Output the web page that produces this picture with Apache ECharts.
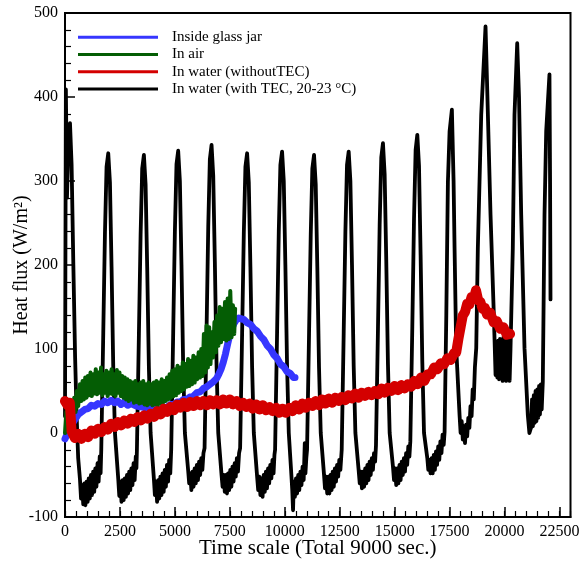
<!DOCTYPE html>
<html>
<head>
<meta charset="utf-8">
<script src="https://cdn.jsdelivr.net/npm/echarts@6/dist/echarts.min.js"></script>
<style>
  html, body { margin: 0; padding: 0; background: #fff; }
  #chart { width: 584px; height: 562px; }
</style>
</head>
<body>
<div id="chart"></div>
<script>
// Heat flux records, [time, W/m^2]
var seriesNames = [
  'Inside glass jar',
  'In air',
  'In water (withoutTEC)',
  'In water (with TEC, 20-23 \u00B0C)'
];

var jarFlux = [
  [0,-7],[150,2],[300,10],[450,16],[600,22],[750,25],[900,28],[1050,29],[1200,33],[1350,32],
  [1500,35],[1650,34],[1800,38],[1950,36],[2100,39],[2250,36],[2400,38],[2550,34],[2700,37],[2850,33],
  [3000,35],[3250,32],[3500,31],[3750,29],[4000,29],[4250,27],[4500,30],[4650,31],[4800,34],[4950,34],
  [5100,37],[5250,37],[5400,40],[5550,40],[5700,43],[5850,44],[6000,48],[6150,49],[6300,53],[6450,55],
  [6600,58],[6750,61],[6900,65],[7000,70],[7100,76],[7200,84],[7300,94],[7400,106],[7500,117],[7600,125],
  [7700,131],[7800,135],[7900,137],[8000,136],[8150,135],[8300,131],[8450,129],[8600,124],[8750,121],[8900,115],
  [9050,111],[9200,104],[9350,100],[9500,93],[9650,89],[9800,82],[9950,79],[10100,73],[10250,71],[10400,66],[10465,66]
];

var airFlux = [
  [0,0],[60,25],[120,5],[180,30],[240,12],[300,35],[360,18],[420,42],[480,25],[540,50],[600,32],[680,58],
  [740,38],[800,62],[860,40],[920,66],[980,42],[1040,68],[1100,45],[1160,72],[1220,44],[1280,70],[1340,47],
  [1400,76],[1460,46],[1520,72],[1580,48],[1640,78],[1700,45],[1760,70],[1820,48],[1880,74],[1940,44],
  [2000,72],[2060,47],[2120,76],[2180,46],[2240,70],[2300,44],[2360,75],[2420,48],[2480,72],[2540,44],
  [2600,68],[2660,42],[2720,66],[2780,40],[2840,64],[2900,38],[2960,62],[3020,40],[3080,60],[3140,36],
  [3200,62],[3260,37],[3320,58],[3380,35],[3440,60],[3500,36],[3560,62],[3620,34],[3680,58],[3740,33],
  [3800,60],[3860,35],[3920,58],[3980,33],[4040,60],[4100,34],[4160,62],[4220,33],[4280,60],[4340,35],
  [4400,64],[4460,36],[4520,62],[4580,38],[4640,66],[4700,40],[4760,70],[4820,42],[4880,74],[4940,44],
  [5000,76],[5060,45],[5120,80],[5180,48],[5240,78],[5300,50],[5360,84],[5420,52],[5480,82],[5540,55],
  [5600,88],[5660,56],[5720,86],[5780,58],[5840,92],[5900,60],[5960,90],[6020,64],[6080,96],[6140,66],
  [6200,100],[6260,68],[6320,118],[6380,72],[6440,128],[6500,78],[6560,126],[6620,82],[6680,120],[6740,90],
  [6800,132],[6860,96],[6920,140],[6980,104],[7040,150],[7100,108],[7160,148],[7220,112],[7280,156],[7340,110],
  [7400,160],[7460,112],[7520,169],[7580,114],[7640,152],[7700,118],[7740,148]
];

var waterFlux = [
  [0,38],[120,33],[220,36],[300,2],[450,-6],[600,-1],[750,-7],[900,-1],[1050,-5],[1200,3],[1350,-1],
  [1500,5],[1650,1],[1800,7],[1950,4],[2100,11],[2250,7],[2400,13],[2550,9],[2700,15],[2850,11],[3000,17],
  [3150,13],[3300,19],[3450,15],[3600,21],[3750,17],[3900,23],[4050,19],[4200,26],[4350,22],[4500,29],
  [4650,25],[4800,31],[4950,27],[5100,34],[5250,30],[5400,36],[5550,31],[5700,37],[5850,32],[6000,38],
  [6150,33],[6300,38],[6450,33],[6600,39],[6750,34],[6900,39],[7050,34],[7200,40],[7350,35],[7500,40],
  [7650,34],[7800,38],[7950,32],[8100,36],[8250,31],[8400,35],[8550,29],[8700,34],[8850,28],[9000,33],
  [9150,27],[9300,31],[9450,26],[9600,30],[9750,24],[9900,29],[10050,24],[10200,30],[10350,26],[10500,33],
  [10650,28],[10800,35],[10950,30],[11100,36],[11250,32],[11400,38],[11550,33],[11700,40],[11850,35],[12000,41],
  [12150,36],[12300,42],[12450,38],[12600,43],[12750,39],[12900,45],[13050,41],[13200,47],[13350,42],[13500,48],
  [13650,44],[13800,49],[13950,45],[14100,50],[14250,46],[14400,53],[14550,48],[14700,54],[14850,50],[15000,56],
  [15150,51],[15300,57],[15450,53],[15600,58],[15750,55],[15900,62],[16050,58],[16200,66],[16350,62],[16500,70],
  [16650,70],[16800,78],[16950,76],[17100,83],[17250,82],[17400,89],[17550,87],[17700,95],[17800,96],[17900,112],
  [18000,126],[18100,140],[18200,144],[18300,154],[18400,153],[18500,162],[18600,160],[18700,170],[18800,158],
  [18900,156],[19000,148],[19100,149],[19200,141],[19350,143],[19500,132],[19650,133],[19800,124],[19950,126],
  [20100,117],[20250,118]
];

var tecFlux = [
  [0,20],[40,409],[90,280],[150,340],[227,369],[300,320],[380,200],[460,90],[530,20],[600,-30],
  [680,-55],[730,-78],[780,-62],[830,-85],[880,-60],[930,-86],[980,-58],[1030,-82],[1080,-54],[1130,-78],
  [1180,-50],[1230,-74],[1280,-46],[1330,-70],[1380,-42],[1430,-64],[1480,-36],[1530,-58],[1580,-28],[1620,-48],[1650,-20],
  [1741,119],[1818,238],[1891,317],[1968,333],[2045,298],[2118,198],[2195,79],[2273,0],
  [2423,-55],[2470,-75],[2520,-58],[2570,-82],[2620,-56],[2670,-80],[2720,-54],[2770,-76],[2820,-50],[2870,-72],
  [2920,-46],[2970,-68],[3020,-42],[3070,-62],[3120,-36],[3170,-56],[3220,-28],[3250,-42],[3272,-20],
  [3363,118],[3440,236],[3513,315],[3590,331],[3667,296],[3740,197],[3817,78],[3895,0],
  [4045,-55],[4090,-74],[4140,-58],[4190,-82],[4240,-56],[4290,-78],[4340,-52],[4390,-74],[4440,-48],[4490,-70],
  [4540,-44],[4590,-64],[4640,-38],[4690,-58],[4740,-32],[4790,-48],[4832,-20],
  [4923,120],[5000,240],[5073,320],[5150,336],[5227,300],[5300,200],[5377,80],[5455,0],
  [5605,-45],[5650,-60],[5700,-48],[5750,-68],[5800,-46],[5850,-64],[5900,-42],[5950,-60],[6000,-38],[6050,-56],
  [6100,-34],[6150,-50],[6200,-30],[6250,-44],[6300,-24],[6350,-18],
  [6441,122],[6518,246],[6591,326],[6668,343],[6745,306],[6818,204],[6895,82],[6973,0],
  [7123,-50],[7170,-64],[7220,-50],[7270,-70],[7320,-50],[7370,-72],[7420,-48],[7470,-68],[7520,-44],[7570,-64],
  [7620,-40],[7670,-58],[7720,-36],[7770,-52],[7820,-30],[7870,-46],[7920,-24],[7968,-18],
  [8059,119],[8136,238],[8209,317],[8286,333],[8363,298],[8436,198],[8513,79],[8591,0],
  [8741,-52],[8790,-68],[8840,-52],[8890,-74],[8940,-54],[8990,-76],[9040,-50],[9090,-70],[9140,-46],[9190,-66],
  [9240,-42],[9290,-60],[9340,-38],[9390,-54],[9440,-32],[9490,-48],[9530,-26],[9559,-20],
  [9650,120],[9727,240],[9800,319],[9877,335],[9954,300],[10027,200],[10104,80],[10182,0],
  [10300,-50],[10340,-68],[10376,-92],[10410,-58],[10460,-76],[10510,-54],[10560,-72],[10610,-50],[10660,-68],
  [10710,-46],[10760,-62],[10810,-40],[10860,-56],[10910,-12],[10940,-48],[10980,-30],[11013,-20],
  [11104,118],[11181,236],[11254,315],[11331,331],[11408,296],[11481,197],[11558,78],[11636,0],
  [11786,-50],[11830,-66],[11880,-52],[11930,-72],[11980,-52],[12030,-72],[12080,-50],[12130,-68],[12180,-46],
  [12230,-64],[12280,-42],[12330,-58],[12380,-38],[12430,-52],[12480,-32],[12530,-44],[12590,-20],
  [12681,120],[12758,240],[12831,319],[12908,335],[12985,300],[13058,200],[13135,80],[13213,0],
  [13363,-45],[13410,-60],[13460,-46],[13510,-66],[13560,-46],[13610,-64],[13660,-42],[13710,-60],[13760,-38],
  [13810,-56],[13860,-34],[13910,-50],[13960,-30],[14010,-44],[14060,-24],[14110,-34],[14149,-15],
  [14240,124],[14317,248],[14390,328],[14467,345],[14544,308],[14617,206],[14694,82],[14772,0],
  [14922,-40],[14970,-56],[15020,-42],[15070,-62],[15120,-42],[15170,-60],[15220,-38],[15270,-56],[15320,-34],
  [15370,-50],[15420,-30],[15470,-46],[15520,-24],[15570,-38],[15620,-16],[15670,-28],[15712,-10],
  [15803,127],[15880,255],[15953,337],[16030,355],[16107,318],[16180,212],[16257,85],[16335,0],
  [16485,-30],[16530,-44],[16580,-32],[16630,-48],[16680,-30],[16730,-48],[16780,-26],[16830,-44],[16880,-22],
  [16930,-38],[16980,-16],[17030,-32],[17080,-10],[17130,-24],[17180,-2],[17230,-14],[17271,1],
  [17349,140],[17422,299],[17498,359],[17603,385],[17680,300],[17725,220],[17800,101],
  [17953,21],[18000,0],[18050,14],[18100,-8],[18150,8],[18200,-12],[18250,10],[18300,-4],[18350,18],[18400,6],
  [18450,32],[18500,20],[18550,52],[18600,40],[18650,78],[18711,101],
  [18784,220],[18938,379],[19088,459],[19134,484],[19220,400],[19361,260],[19513,140],
  [19590,69],[19630,108],[19670,66],[19710,110],[19750,64],[19790,112],[19830,66],[19870,110],[19910,62],
  [19950,114],[19990,64],[20030,108],[20070,62],[20110,112],[20150,66],[20190,106],[20230,62],[20270,100],[20302,101],
  [20375,220],[20452,379],[20575,464],[20657,400],[20757,260],[20907,101],
  [21059,21],[21130,0],[21211,7],[21250,40],[21290,8],[21330,45],[21370,12],[21410,50],[21450,14],[21490,52],
  [21530,18],[21570,56],[21610,22],[21650,58],[21690,28],[21740,61],
  [21818,260],[21894,359],[22043,427],[22070,300],[22090,159]
];

var seriesColors = ['#3636ff', '#045d04', '#d40000', '#000000'];
var xMax = 23000, xStep = 2500, xMinorStep = 500;
var yMin = -100, yMax = 500, yStep = 100;

var serif = 'Liberation Serif, Times New Roman, serif';
var chart = echarts.init(document.getElementById('chart'), null, { renderer: 'canvas' });

function plain(v) { return String(v); }

function lineSeries(name, data, color, width, z) {
  return {
    name: name, type: 'line', data: data, xAxisIndex: 0, yAxisIndex: 0,
    showSymbol: false, symbol: 'none', z: z,
    lineStyle: { color: color, width: width, join: 'round', cap: 'round' },
    itemStyle: { color: color },
    emphasis: { disabled: true }
  };
}

chart.setOption({
  animation: false,
  backgroundColor: '#fff',
  grid: {
    left: 65, right: 13.5, top: 13, bottom: 45,
    outerBoundsMode: 'none', containLabel: false,
    show: true, borderColor: '#000', borderWidth: 2, backgroundColor: 'transparent'
  },
  legend: {
    orient: 'vertical', left: 78, top: 28.5, padding: 0,
    icon: 'rect', itemWidth: 80, itemHeight: 3, itemGap: 0,
    data: seriesNames,
    textStyle: { fontFamily: serif, fontSize: 15, color: '#000', lineHeight: 17.3, padding: [0, 0, 0, 9] },
    selectedMode: false
  },
  xAxis: [{
    type: 'value', min: 0, max: xMax, interval: xStep, position: 'bottom',
    name: 'Time scale (Total 9000 sec.)', nameLocation: 'middle', nameGap: 21, nameMoveOverlap: false,
    nameTextStyle: { fontFamily: serif, fontSize: 21, color: '#000' },
    axisLine: { show: true, onZero: false, lineStyle: { color: '#000', width: 2 } },
    axisTick: { show: true, inside: true, length: 10, lineStyle: { color: '#000', width: 1.5 } },
    axisLabel: { fontFamily: serif, fontSize: 16, color: '#000', margin: 7, showMaxLabel: false, formatter: plain },
    splitLine: { show: false }
  }, {
    type: 'value', min: 0, max: xMax, interval: xMinorStep, position: 'bottom',
    axisLine: { show: false, onZero: false },
    axisTick: { show: true, inside: true, length: 6, lineStyle: { color: '#000', width: 1.2 } },
    axisLabel: { show: false },
    splitLine: { show: false }
  }],
  yAxis: {
    type: 'value', min: yMin, max: yMax, interval: yStep,
    name: 'Heat flux (W/m\u00B2)', nameLocation: 'middle', nameGap: 33, nameMoveOverlap: false,
    nameTextStyle: { fontFamily: serif, fontSize: 20, color: '#000' },
    axisLine: { show: true, onZero: false, lineStyle: { color: '#000', width: 2 } },
    axisTick: { show: true, inside: true, length: 10, lineStyle: { color: '#000', width: 1.5 } },
    minorTick: { show: true, splitNumber: 5, length: 6, lineStyle: { color: '#000', width: 1.2 } },
    axisLabel: { fontFamily: serif, fontSize: 16, color: '#000', margin: 7, formatter: plain },
    splitLine: { show: false }
  },
  series: [
    lineSeries(seriesNames[3], tecFlux, seriesColors[3], 3.8, 1),
    lineSeries(seriesNames[0], jarFlux, seriesColors[0], 7, 2),
    lineSeries(seriesNames[1], airFlux, seriesColors[1], 4, 3),
    lineSeries(seriesNames[2], waterFlux, seriesColors[2], 10, 4)
  ]
});
</script>
</body>
</html>
